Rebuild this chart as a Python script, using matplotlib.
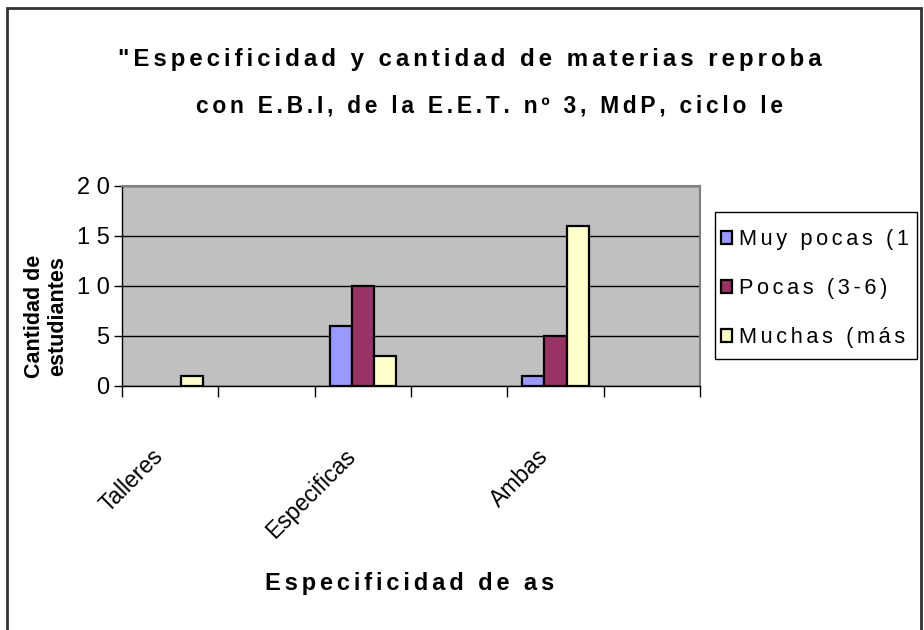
import numpy as np
import matplotlib
matplotlib.use("Agg")
import matplotlib.pyplot as plt
from matplotlib.patches import Rectangle
from matplotlib.transforms import ScaledTranslation

# ---------------- data ----------------
categories = ["Talleres", "", "Especificas", "", "Ambas", ""]
series_names = ["Muy pocas (1", "Pocas (3-6)", "Muchas (más"]
muy_pocas = [0, 0, 6, 0, 1, 0]
pocas = [0, 0, 10, 0, 5, 0]
muchas = [1, 0, 3, 0, 16, 0]
y_ticks = [0, 5, 10, 15, 20]
title_line1 = '"Especificidad y cantidad de materias reproba'
title_line2 = 'con E.B.I, de la E.E.T. nº 3, MdP, ciclo le'
x_title = "Especificidad de as"
y_title = "Cantidad de\nestudiantes"
colors = ["#9999FF", "#993366", "#FFFFCC"]

plt.rcParams["font.family"] = ["Liberation Sans", "DejaVu Sans"]

GAP = "\u2006"


def spaced(s):
    return GAP.join(s)


W, H = 924, 630
fig = plt.figure(figsize=(W / 100, H / 100), dpi=100)
renderer = fig.canvas.get_renderer()


def fx(px):
    return px / W


def fy(py):
    return 1 - py / H


def fit(t, width_px):
    w = t.get_window_extent(renderer).width
    t.set_fontsize(t.get_fontsize() * width_px / w)
    return t.get_fontsize()


ax = fig.add_axes([fx(122), fy(386), fx(700) - fx(122), fy(186) - fy(386)])
ax.set_facecolor("#C0C0C0")
x = np.arange(len(categories))
bw = 0.23
handles = []
for k, (vals, c, name) in enumerate(zip([muy_pocas, pocas, muchas], colors, series_names)):
    v = np.array(vals, dtype=float)
    v[v == 0] = np.nan
    b = ax.bar(x + (k - 1) * bw, v, width=bw, color=c, edgecolor="black",
               linewidth=1.6, label=name, zorder=3)
    handles.append(b)

ax.set_xlim(-0.5, len(categories) - 0.5)
ax.set_ylim(0, 20)
ax.set_yticks(y_ticks)
ax.set_yticklabels([" ".join(str(v)) for v in y_ticks], fontsize=17)
ax.yaxis.grid(True, color="black", linewidth=1)
ax.set_axisbelow(True)
ax.set_xticks(x)
ax.set_xticklabels([])
ax.tick_params(axis="x", which="major", length=0)
ax.set_xticks(np.arange(len(categories) + 1) - 0.5, minor=True)
ax.tick_params(axis="x", which="minor", length=8, width=1, color="black", direction="out")
ax.tick_params(axis="y", length=6, width=1, direction="out", pad=3)
for s in ["top", "right"]:
    ax.spines[s].set_color("#808080")
    ax.spines[s].set_linewidth(1.5)
for s in ["left", "bottom"]:
    ax.spines[s].set_color("black")
    ax.spines[s].set_linewidth(1)

# category labels (rotated)
for i, cat in enumerate(categories):
    if cat:
        ax.text(i, 0, cat,
                transform=ax.get_xaxis_transform()
                + ScaledTranslation(-11 / 100, -67 / 100, fig.dpi_scale_trans),
                rotation=45, rotation_mode="anchor", ha="right", va="center",
                fontsize=16.5)

# y axis title
fig.text(fx(46), fy(316), y_title, rotation=90, ha="center", va="center",
         fontsize=15.5, fontweight="bold", linespacing=1.1)

# x axis title
xt = fig.text(fx(265), fy(590), spaced(x_title), ha="left", va="baseline",
              fontsize=18, fontweight="bold")
fit(xt, 290)

# title
t1 = fig.text(fx(470), fy(66), spaced(title_line1), ha="center", va="baseline",
              fontsize=14, fontweight="bold")
tsize = fit(t1, 704)
t2 = fig.text(fx(489), fy(113), spaced(title_line2), ha="center", va="baseline",
              fontsize=tsize * 0.95, fontweight="bold")

# legend
frame = Rectangle((fx(715), fy(359)), fx(917) - fx(715), fy(212) - fy(359),
                  transform=fig.transFigure, facecolor="white", edgecolor="black",
                  linewidth=1, zorder=1)
fig.patches.append(frame)
probe = fig.text(0, 0, spaced(series_names[0]), fontsize=16)
lsize = fit(probe, 172)
probe.remove()
lpx = lsize * 100 / 72
leg = fig.legend(handles, [spaced(n) for n in series_names], loc="upper left",
                 bbox_to_anchor=(fx(721), fy(229)), frameon=False, fontsize=lsize,
                 handlelength=11 / lpx, handleheight=12 / lpx, handletextpad=7 / lpx,
                 labelspacing=(48 - 0.92 * lpx) / lpx, borderpad=0, borderaxespad=0)
leg.set_zorder(2)

# outer border
border = Rectangle((fx(7), fy(660)), fx(921) - fx(7), fy(8) - fy(660),
                   transform=fig.transFigure, fill=False, edgecolor="#333333",
                   linewidth=2, clip_on=False)
fig.patches.append(border)

fig.savefig("out.png", dpi=100)
